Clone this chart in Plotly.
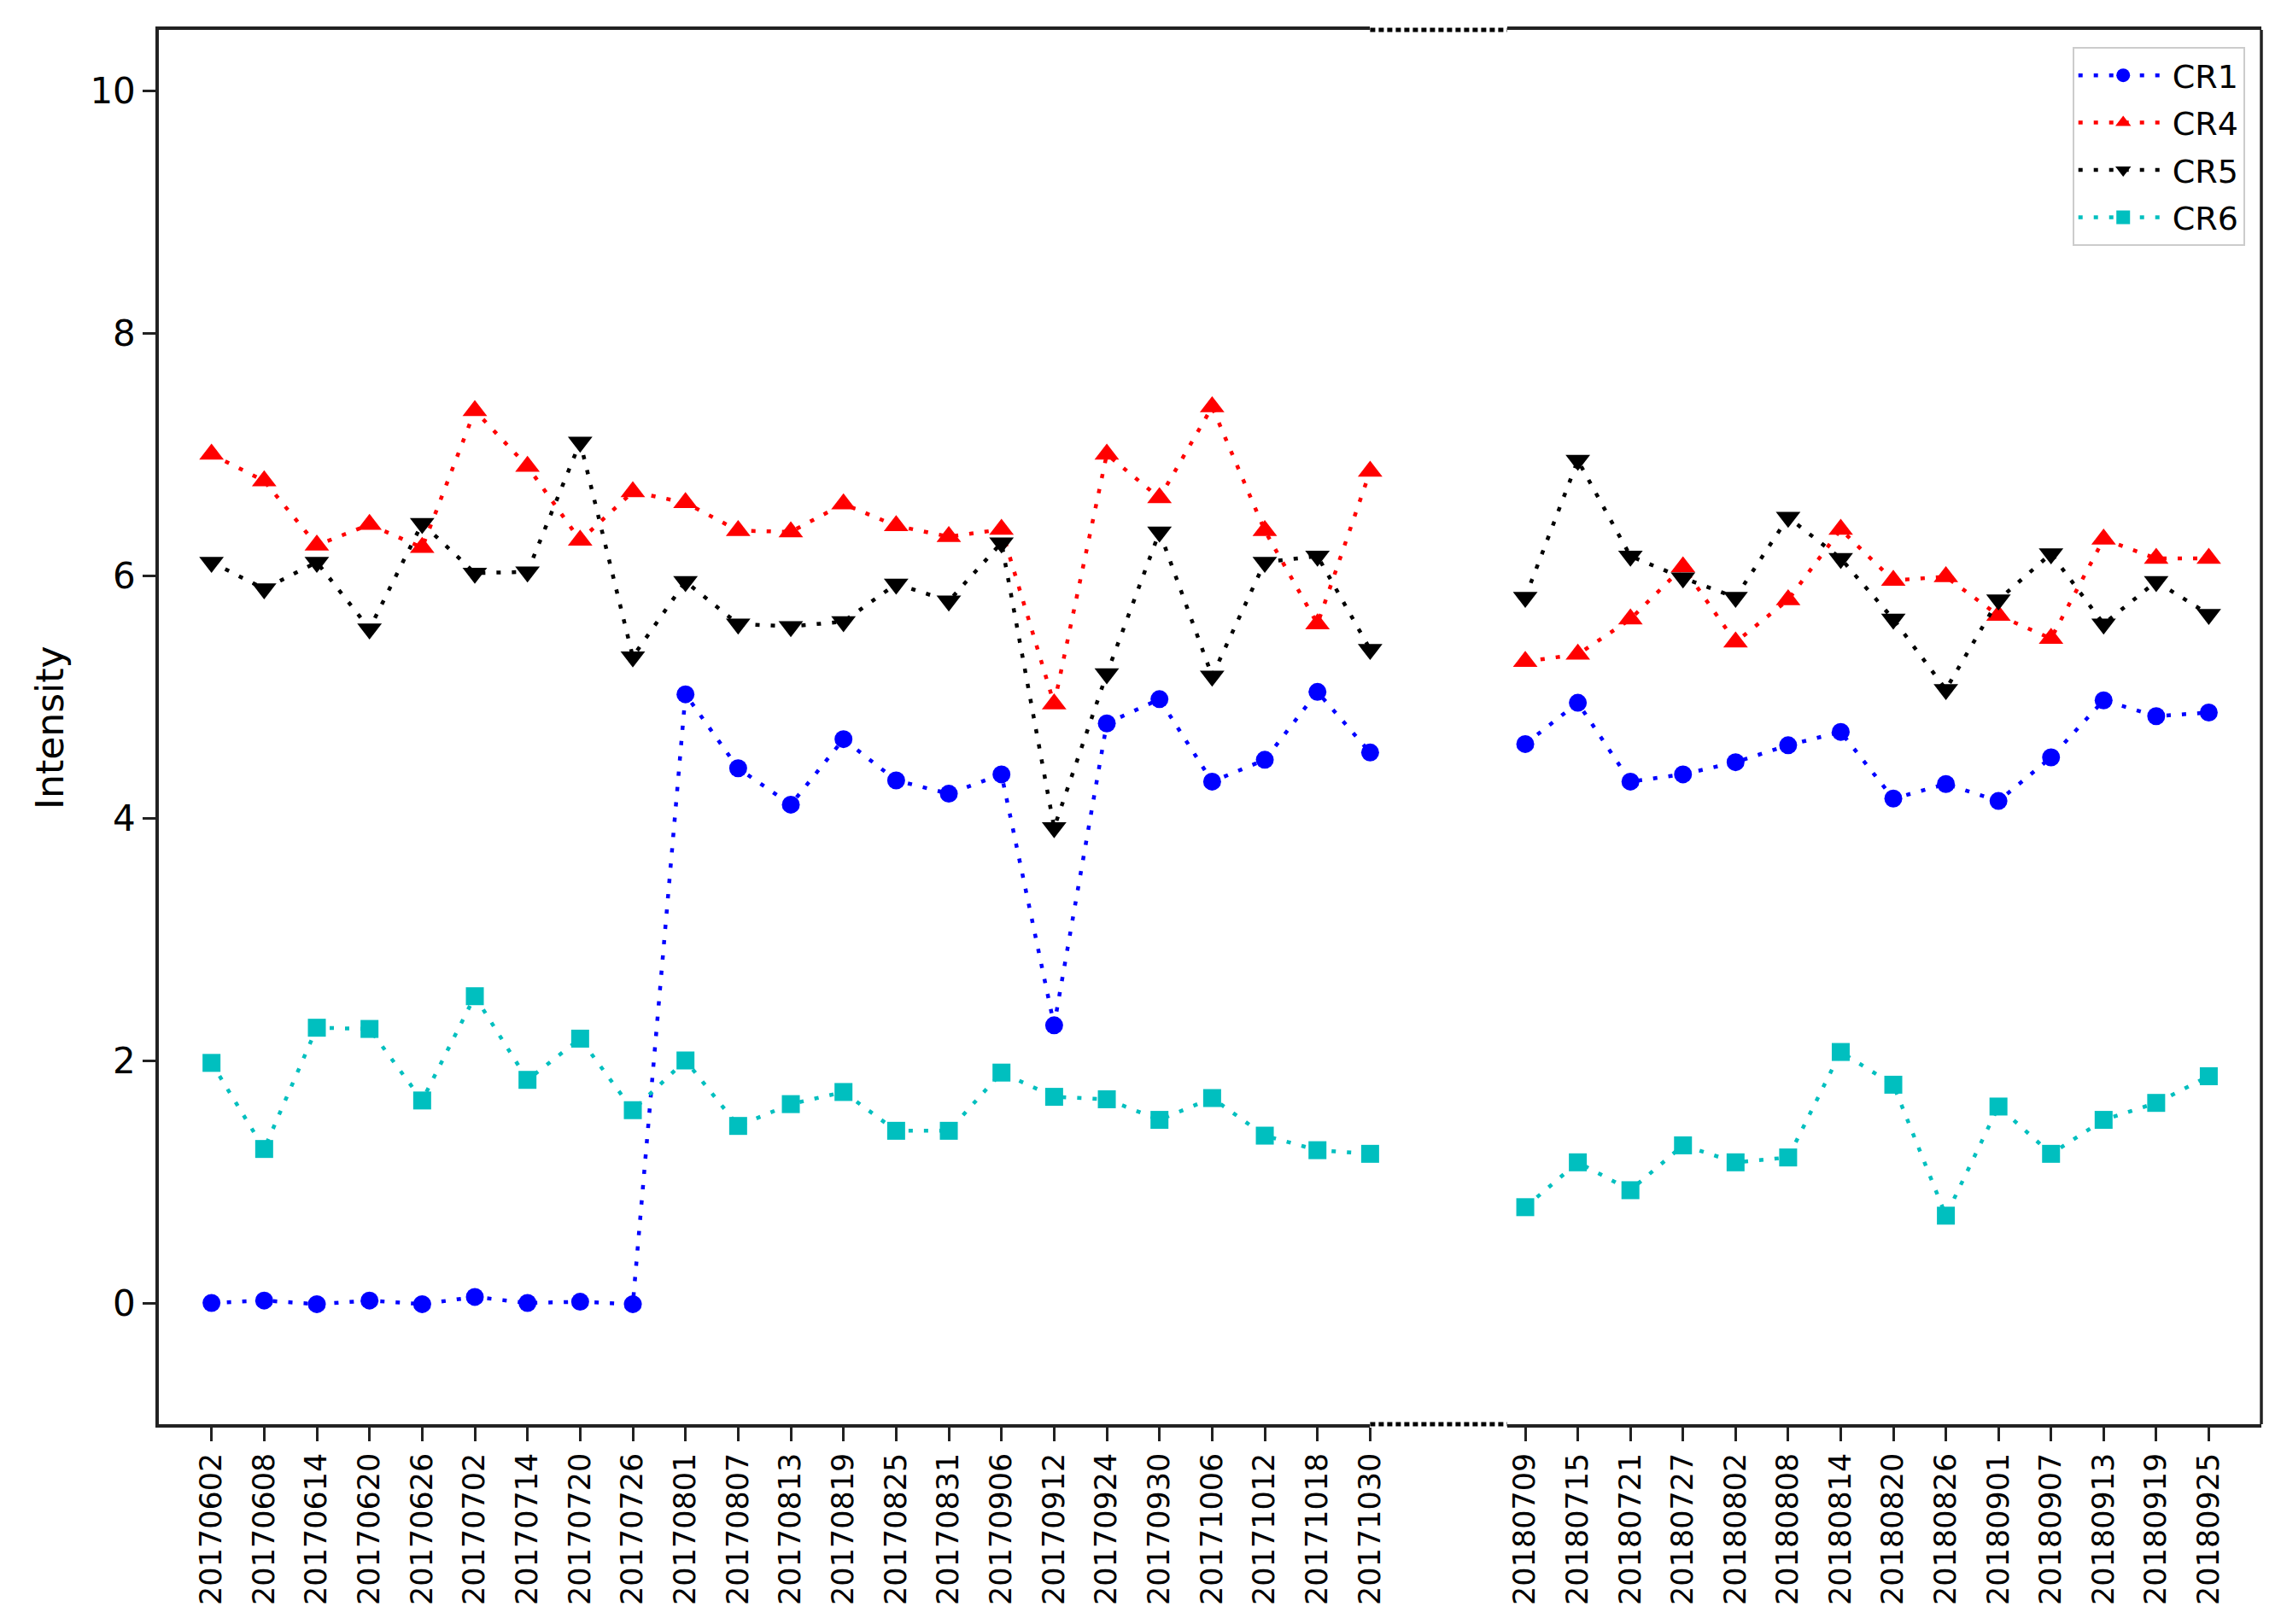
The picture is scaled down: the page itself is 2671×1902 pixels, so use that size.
import plotly.graph_objects as go

# ---------------- data ----------------
dates_2017 = ['20170602', '20170608', '20170614', '20170620', '20170626', '20170702',
              '20170714', '20170720', '20170726', '20170801', '20170807', '20170813',
              '20170819', '20170825', '20170831', '20170906', '20170912', '20170924',
              '20170930', '20171006', '20171012', '20171018', '20171030']
dates_2018 = ['20180709', '20180715', '20180721', '20180727', '20180802', '20180808',
              '20180814', '20180820', '20180826', '20180901', '20180907', '20180913',
              '20180919', '20180925']

cr1_2017 = [0.00, 0.02, -0.01, 0.02, -0.01, 0.05, 0.00, 0.01, -0.01, 5.02, 4.41, 4.11,
            4.65, 4.31, 4.20, 4.36, 2.29, 4.78, 4.98, 4.30, 4.48, 5.04, 4.54]
cr1_2018 = [4.61, 4.95, 4.30, 4.36, 4.46, 4.60, 4.71, 4.16, 4.28, 4.14, 4.50, 4.97, 4.84, 4.87]

cr4_2017 = [7.00, 6.78, 6.25, 6.42, 6.23, 7.36, 6.90, 6.29, 6.69, 6.60, 6.37, 6.36,
            6.59, 6.41, 6.32, 6.38, 4.94, 7.00, 6.64, 7.39, 6.37, 5.60, 6.86]
cr4_2018 = [5.29, 5.35, 5.64, 6.07, 5.45, 5.80, 6.38, 5.96, 5.99, 5.67, 5.48, 6.30, 6.14, 6.14]

cr5_2017 = [6.11, 5.89, 6.11, 5.56, 6.43, 6.02, 6.03, 7.10, 5.33, 5.95, 5.60, 5.58,
            5.62, 5.93, 5.79, 6.27, 3.92, 5.19, 6.36, 5.17, 6.11, 6.16, 5.39]
cr5_2018 = [5.82, 6.95, 6.16, 5.98, 5.82, 6.48, 6.14, 5.64, 5.06, 5.80, 6.18, 5.60, 5.95, 5.68]

cr6_2017 = [1.98, 1.27, 2.27, 2.26, 1.67, 2.53, 1.84, 2.18, 1.59, 2.00, 1.46, 1.64,
            1.74, 1.42, 1.42, 1.90, 1.70, 1.68, 1.51, 1.69, 1.38, 1.26, 1.23]
cr6_2018 = [0.79, 1.16, 0.93, 1.30, 1.16, 1.20, 2.07, 1.80, 0.72, 1.62, 1.23, 1.51, 1.65, 1.87]

y_ticks = [0, 2, 4, 6, 8, 10]

# ---------------- build ----------------
n17 = len(dates_2017)
n18 = len(dates_2018)
x17 = list(range(n17))
x18 = list(range(n17, n17 + n18))

series = [
    ('CR1', cr1_2017, cr1_2018, '#0000ff', 'circle', 21),
    ('CR4', cr4_2017, cr4_2018, '#ff0000', 'triangle-up', 25),
    ('CR5', cr5_2017, cr5_2018, '#000000', 'triangle-down', 25),
    ('CR6', cr6_2017, cr6_2018, '#00bfbf', 'square', 21),
]

FONT = 'DejaVu Sans'
AX = '#222222'
fig = go.Figure()
for name, v17, v18, color, sym, size in series:
    for xa, xs, ys, show in (('x', x17, v17, True), ('x2', x18, v18, False)):
        fig.add_trace(go.Scatter(
            x=xs, y=ys, name=name, xaxis=xa, yaxis='y',
            mode='lines+markers', showlegend=show, legendgroup=name,
            line=dict(color=color, width=4.5, dash='5px,13px'),
            marker=dict(color=color, symbol=sym, size=size, line=dict(width=0)),
            cliponaxis=False,
        ))

L, R, T, B = 178, 2648, 27, 1660
W, H = 2671, 1902
pw = R - L
ph = B - T
left_end = (1601 - L) / pw
right_start = (1762 - L) / pw

xcommon = dict(showline=True, mirror=True, linecolor=AX, linewidth=3.5,
               ticks='outside', ticklen=16, tickwidth=3, tickcolor=AX,
               tickangle=-90, tickfont=dict(family=FONT, size=35, color='black'),
               showgrid=False, zeroline=False, anchor='y', tickmode='array')

fig.update_layout(
    width=W, height=H,
    margin=dict(l=L, r=W - R, t=T, b=H - B, pad=0),
    paper_bgcolor='white', plot_bgcolor='white',
    font=dict(family=FONT, color='black'),
    xaxis=dict(domain=[0, left_end], range=[-1, n17 - 1],
               tickvals=x17, ticktext=dates_2017, **xcommon),
    xaxis2=dict(domain=[right_start, 1], range=[n17 - 0.344, n17 + n18],
                tickvals=x18, ticktext=dates_2018, **xcommon),
    yaxis=dict(range=[-1, 10.5], tickvals=y_ticks, showline=True, linecolor=AX,
               linewidth=3.5, ticks='outside', ticklen=15, tickwidth=3, tickcolor=AX,
               tickfont=dict(family=FONT, size=42, color='black'),
               showgrid=False, zeroline=False, anchor='x'),
    legend=dict(x=(2426 - L) / pw, y=1 - (47 - T) / ph, xanchor='left', yanchor='top',
                bgcolor='white', bordercolor='#cccccc', borderwidth=2,
                font=dict(family=FONT, size=38, color='black'), itemwidth=105,
                tracegroupgap=3),
    showlegend=True,
    annotations=[dict(text='Intensity', xref='paper', yref='paper',
                      x=(50 - L) / pw, y=0.5, xanchor='center', yanchor='middle',
                      textangle=-90, showarrow=False,
                      font=dict(family=FONT, size=44, color='black'))],
    shapes=[
        dict(type='line', xref='paper', yref='paper', x0=1, x1=1, y0=0, y1=1,
             line=dict(color=AX, width=3.5)),
        dict(type='line', xref='paper', yref='paper', x0=left_end, x1=right_start, y0=0, y1=0,
             line=dict(color='black', width=5, dash='6px,4px')),
        dict(type='line', xref='paper', yref='paper', x0=left_end, x1=right_start, y0=1, y1=1,
             line=dict(color='black', width=5, dash='6px,4px')),
    ],
)

fig.write_html('out.html')
